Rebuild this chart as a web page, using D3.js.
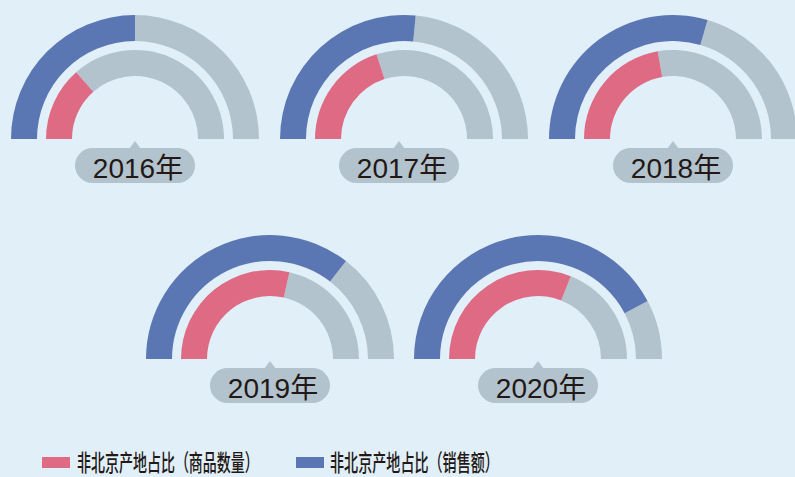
<!DOCTYPE html>
<html>
<head>
<meta charset="utf-8">
<script src="https://cdn.jsdelivr.net/npm/d3@7"></script>
<style>
  body { margin: 0; background: #e1eff8; }
  svg { display: block; }
</style>
</head>
<body>
<div id="chart"></div>
<script>
  // data
  const years = ["2016年", "2017年", "2018年", "2019年", "2020年"];
  const qtyShare = [0.27, 0.40, 0.445, 0.57, 0.62];     // 商品数量
  const salesShare = [0.50, 0.53, 0.59, 0.71, 0.845];  // 销售额
  const legendLabels = ["非北京产地占比（商品数量）", "非北京产地占比（销售额）"];

  const svgWidth = 795;
  const svgHeight = 477;

  const colors = {
    qty: "#df6a84",
    sales: "#5a77b3",
    rest: "#b2c3ce",
    pill: "#b2c3ce",
    text: "#231815"
  };

  // gauge centres and label nudges
  const layout = [
    { cx: 135, cy: 139, dx: 0 },
    { cx: 404, cy: 139, dx: -5 },
    { cx: 673, cy: 139, dx: 0 },
    { cx: 270, cy: 359, dx: 0 },
    { cx: 538, cy: 359, dx: 0 }
  ];

  const svg = d3.select("#chart")
    .append("svg")
    .attr("width", svgWidth)
    .attr("height", svgHeight);

  svg.append("rect")
    .attr("width", svgWidth)
    .attr("height", svgHeight)
    .attr("fill", "#e1eff8");

  const angle = d3.scaleLinear()
    .domain([0, 1])
    .range([-Math.PI / 2, Math.PI / 2]);

  const outerArc = d3.arc().innerRadius(98).outerRadius(124);
  const innerArc = d3.arc().innerRadius(63).outerRadius(89);

  const gauges = svg.selectAll("g.gauge")
    .data(years.map((y, i) => ({ year: y, qty: qtyShare[i], sales: salesShare[i], pos: layout[i] })))
    .enter()
    .append("g")
    .attr("class", "gauge")
    .attr("transform", d => `translate(${d.pos.cx}, ${d.pos.cy})`);

  // outer ring: sales share
  gauges.append("path")
    .attr("d", d => outerArc({ startAngle: angle(d.sales), endAngle: angle(1) }))
    .attr("fill", colors.rest);
  gauges.append("path")
    .attr("d", d => outerArc({ startAngle: angle(0), endAngle: angle(d.sales) }))
    .attr("fill", colors.sales);

  // inner ring: quantity share
  gauges.append("path")
    .attr("d", d => innerArc({ startAngle: angle(d.qty), endAngle: angle(1) }))
    .attr("fill", colors.rest);
  gauges.append("path")
    .attr("d", d => innerArc({ startAngle: angle(0), endAngle: angle(d.qty) }))
    .attr("fill", colors.qty);

  // year label bubble
  const label = gauges.append("g")
    .attr("transform", d => `translate(${d.pos.dx}, 0)`);

  label.append("path")
    .attr("d", "M-6,10 L0,2 L6,10 Z")
    .attr("fill", colors.pill);

  label.append("rect")
    .attr("x", -60)
    .attr("y", 9)
    .attr("width", 120)
    .attr("height", 35)
    .attr("rx", 17.5)
    .attr("fill", colors.pill);

  label.append("text")
    .attr("x", 3)
    .attr("y", 39)
    .attr("text-anchor", "middle")
    .attr("font-family", "'Liberation Sans', 'Noto Sans CJK SC', sans-serif")
    .attr("font-size", 28)
    .attr("fill", colors.text)
    .text(d => d.year);

  // legend
  const legend = [
    { label: legendLabels[0], color: colors.qty, x: 42, tx: 77, len: 182 },
    { label: legendLabels[1], color: colors.sales, x: 296, tx: 330, len: 169 }
  ];

  const lg = svg.selectAll("g.legend")
    .data(legend)
    .enter()
    .append("g")
    .attr("class", "legend");

  lg.append("rect")
    .attr("x", d => d.x)
    .attr("y", 457)
    .attr("width", 28)
    .attr("height", 11)
    .attr("fill", d => d.color);

  // condensed look: squeeze each label horizontally to its measured width
  lg.append("text")
    .attr("x", 0)
    .attr("y", 0)
    .attr("font-family", "'Noto Sans CJK SC', sans-serif")
    .attr("font-size", 23)
    .attr("font-weight", 500)
    .attr("fill", colors.text)
    .text(d => d.label)
    .attr("transform", function(d) {
      const w = this.getComputedTextLength();
      return `translate(${d.tx}, 471) scale(${d.len / w}, 1)`;
    });
</script>
</body>
</html>
